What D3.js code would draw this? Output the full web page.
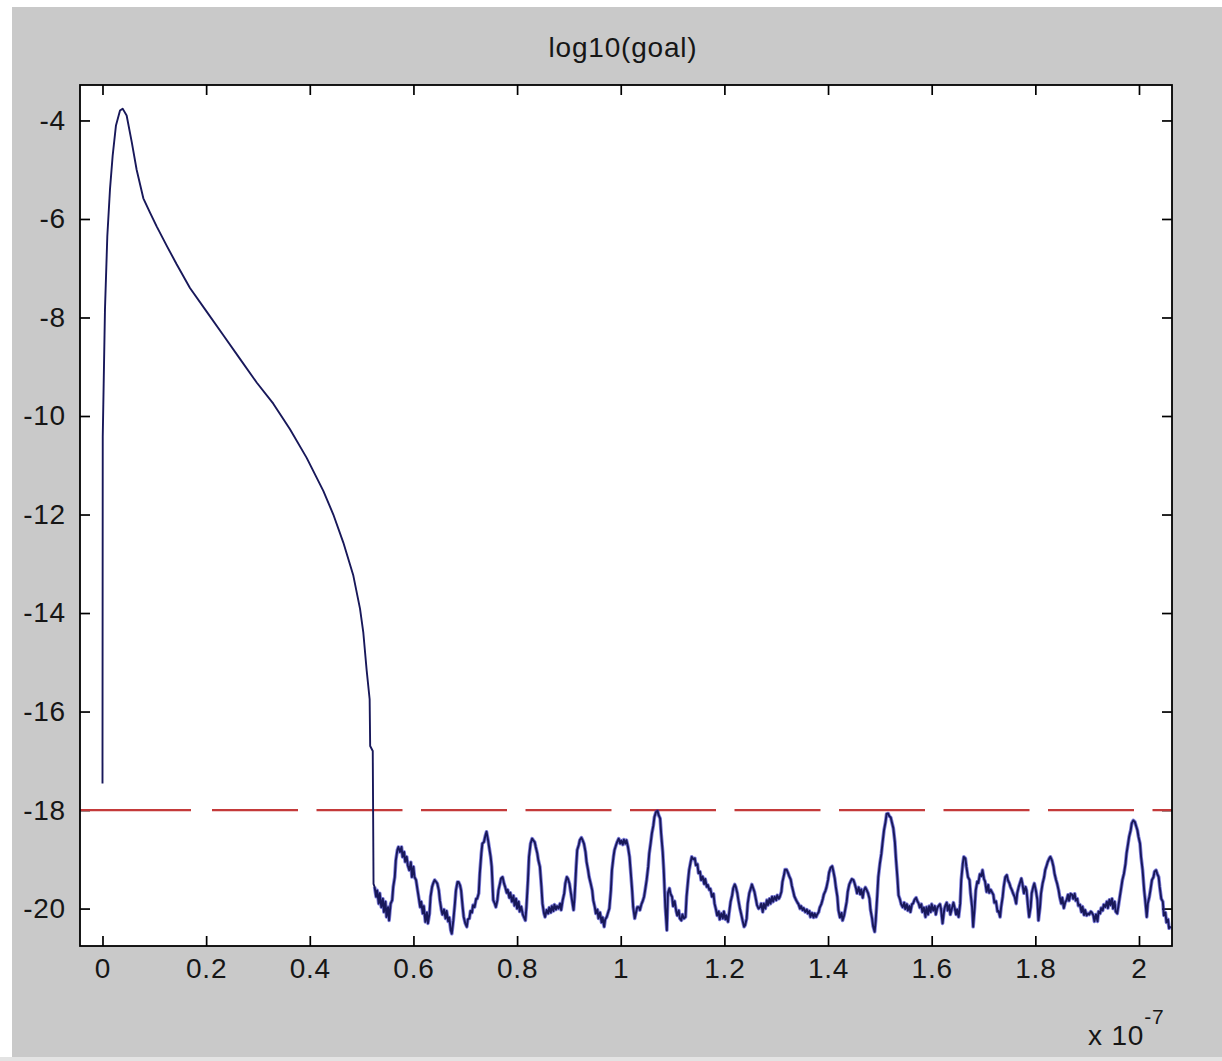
<!DOCTYPE html>
<html>
<head>
<meta charset="utf-8">
<script src="https://cdn.jsdelivr.net/npm/d3@7"></script>
<style>
  html, body { margin: 0; padding: 0; background: #ffffff; }
  svg { display: block; font-family: "Liberation Sans", Arial, Helvetica, sans-serif; }
</style>
</head>
<body>
<svg id="fig" width="1222" height="1061"></svg>
<script>
// ---- log10 of the goal function versus time (time in units of 1e-7 s) ----

// Initial pulse: sharp rise, peak, slow decay, then the collapse to the floor
const pulseTime = [0, 0.0005, 0.0048, 0.0093, 0.0145, 0.0196, 0.026, 0.0338, 0.0389, 0.0466,
  0.0563, 0.0659, 0.0788, 0.0917, 0.1045, 0.1238, 0.1431, 0.1688, 0.201, 0.2332,
  0.2653, 0.2975, 0.3296, 0.3618, 0.394, 0.4261, 0.4454, 0.4647, 0.484, 0.4969,
  0.5033, 0.5097, 0.5155, 0.5165, 0.5215, 0.523];
const pulseGoal = [-17.46, -10.42, -7.83, -6.35, -5.39, -4.72, -4.1, -3.8, -3.76, -3.9,
  -4.43, -5.0, -5.58, -5.87, -6.15, -6.54, -6.92, -7.4, -7.88, -8.36,
  -8.84, -9.32, -9.75, -10.27, -10.85, -11.52, -12.0, -12.57, -13.24, -13.91,
  -14.4, -15.16, -15.75, -16.7, -16.8, -19.5];

// Noise floor, first stretch (0.52 .. 0.88)
const floorTimeA = [
  0.525,0.528,0.530,0.533,0.535,0.538,0.541,0.543,0.546,0.548,
  0.551,0.553,0.556,0.559,0.561,0.564,0.566,0.569,0.571,0.574,
  0.577,0.579,0.582,0.584,0.587,0.589,0.592,0.595,0.597,0.600,
  0.602,0.605,0.608,0.610,0.613,0.615,0.618,0.620,0.623,0.626,
  0.628,0.631,0.633,0.636,0.638,0.641,0.644,0.646,0.649,0.651,
  0.654,0.656,0.659,0.662,0.664,0.667,0.669,0.672,0.674,0.677,
  0.680,0.682,0.685,0.687,0.690,0.692,0.695,0.697,0.700,0.703,
  0.705,0.708,0.710,0.713,0.715,0.718,0.721,0.723,0.726,0.728,
  0.731,0.733,0.736,0.739,0.741,0.744,0.746,0.749,0.751,0.754,
  0.757,0.759,0.762,0.764,0.767,0.769,0.772,0.775,0.777,0.780,
  0.782,0.785,0.787,0.790,0.793,0.795,0.798,0.800,0.803,0.805,
  0.808,0.811,0.813,0.816,0.818,0.821,0.823,0.826,0.829,0.831,
  0.834,0.836,0.839,0.841,0.844,0.847,0.849,0.852,0.854,0.857,
  0.860,0.862,0.865,0.867,0.870,0.872,0.875,0.877,0.880];
const floorGoalA = [
  -19.56,-19.76,-19.63,-19.90,-19.69,-19.97,-19.80,-20.07,-19.86,-20.17,
  -19.97,-20.24,-19.90,-19.83,-19.56,-19.36,-19.02,-18.81,-18.75,-18.85,
  -18.75,-18.95,-18.85,-19.05,-18.95,-19.12,-19.22,-19.06,-19.36,-19.15,
  -19.36,-19.42,-19.63,-19.76,-19.97,-19.86,-20.10,-19.95,-20.27,-20.08,
  -20.30,-20.10,-19.76,-19.56,-19.49,-19.42,-19.46,-19.49,-19.63,-19.83,
  -20.03,-20.12,-20.02,-20.20,-20.05,-20.26,-20.18,-20.44,-20.51,-20.24,
  -19.90,-19.63,-19.46,-19.46,-19.53,-19.63,-19.97,-20.17,-20.30,-20.37,
  -20.22,-20.20,-20.05,-20.08,-19.93,-19.97,-19.80,-19.80,-19.69,-19.29,
  -18.88,-18.68,-18.65,-18.51,-18.44,-18.61,-18.75,-18.95,-19.15,-19.83,
  -19.90,-19.97,-19.83,-19.63,-19.49,-19.39,-19.36,-19.50,-19.56,-19.68,
  -19.62,-19.78,-19.68,-19.86,-19.74,-19.94,-19.80,-20.00,-19.86,-20.06,
  -19.96,-20.12,-20.17,-20.24,-19.97,-19.42,-18.95,-18.68,-18.58,-18.61,
  -18.65,-18.75,-18.88,-19.02,-19.15,-19.56,-19.90,-20.10,-20.17,-20.03,
  -20.10,-19.98,-20.08,-19.95,-20.05,-19.92,-20.02,-19.95,-20.00];

// Noise floor, second stretch (0.88 .. 1.27)
const floorTimeB = [
  0.883,0.885,0.888,0.891,0.893,0.896,0.898,0.901,0.903,0.906,
  0.909,0.911,0.914,0.916,0.919,0.921,0.924,0.926,0.929,0.932,
  0.934,0.937,0.939,0.942,0.945,0.947,0.950,0.952,0.955,0.957,
  0.960,0.963,0.965,0.968,0.970,0.973,0.975,0.978,0.981,0.983,
  0.986,0.988,0.991,0.993,0.996,0.999,1.001,1.004,1.006,1.009,
  1.011,1.014,1.017,1.019,1.022,1.024,1.027,1.029,1.032,1.035,
  1.037,1.040,1.042,1.045,1.047,1.050,1.053,1.055,1.058,1.060,
  1.063,1.065,1.068,1.071,1.073,1.076,1.078,1.081,1.083,1.086,
  1.089,1.091,1.094,1.096,1.099,1.101,1.104,1.107,1.109,1.112,
  1.114,1.117,1.119,1.122,1.125,1.127,1.130,1.132,1.135,1.137,
  1.140,1.143,1.145,1.148,1.150,1.153,1.155,1.158,1.161,1.163,
  1.166,1.168,1.171,1.173,1.176,1.179,1.181,1.184,1.186,1.189,
  1.191,1.194,1.197,1.199,1.202,1.204,1.207,1.209,1.212,1.215,
  1.217,1.220,1.222,1.225,1.227,1.230,1.233,1.235,1.238,1.240,
  1.243,1.245,1.248,1.251,1.253,1.256,1.258,1.261,1.263,1.266];
const floorGoalB = [
  -19.90,-20.03,-19.83,-19.69,-19.49,-19.36,-19.39,-19.49,-19.63,-19.83,
  -20.03,-19.76,-19.15,-18.81,-18.71,-18.61,-18.56,-18.60,-18.68,-18.85,
  -19.05,-19.22,-19.36,-19.49,-19.63,-19.83,-19.97,-20.10,-20.02,-20.20,
  -20.08,-20.28,-20.18,-20.37,-20.22,-20.17,-20.10,-20.00,-19.63,-19.22,
  -18.95,-18.81,-18.71,-18.65,-18.58,-18.68,-18.62,-18.70,-18.60,-18.68,
  -18.61,-18.75,-18.95,-19.22,-19.63,-19.97,-20.20,-20.10,-19.97,-19.97,
  -20.03,-19.91,-19.86,-19.76,-19.63,-19.42,-19.15,-18.88,-18.65,-18.48,
  -18.31,-18.14,-18.04,-18.02,-18.10,-18.17,-18.48,-18.85,-19.22,-19.97,
  -20.44,-19.69,-19.59,-19.70,-19.76,-19.95,-19.85,-20.05,-20.14,-20.04,
  -20.20,-20.24,-20.12,-20.20,-20.17,-19.76,-19.42,-19.22,-19.05,-18.95,
  -19.00,-18.98,-19.12,-19.10,-19.28,-19.25,-19.42,-19.35,-19.50,-19.40,
  -19.56,-19.52,-19.62,-19.60,-19.76,-19.70,-19.90,-20.03,-20.14,-20.06,
  -20.22,-20.10,-20.20,-20.06,-20.22,-20.14,-20.27,-20.10,-19.86,-19.73,
  -19.59,-19.51,-19.56,-19.69,-19.83,-20.00,-20.14,-20.24,-20.37,-20.34,
  -20.20,-19.90,-19.69,-19.59,-19.51,-19.60,-19.66,-19.82,-19.93,-20.00];

// Noise floor, third stretch (1.27 .. 1.65)
const floorTimeC = [
  1.269,1.271,1.274,1.276,1.279,1.282,1.284,1.287,1.289,1.292,
  1.294,1.297,1.300,1.302,1.305,1.307,1.310,1.312,1.315,1.317,
  1.320,1.323,1.325,1.328,1.330,1.333,1.335,1.338,1.341,1.343,
  1.346,1.348,1.351,1.353,1.356,1.359,1.361,1.364,1.366,1.369,
  1.372,1.374,1.377,1.379,1.382,1.384,1.387,1.390,1.392,1.395,
  1.397,1.400,1.402,1.405,1.408,1.410,1.413,1.415,1.418,1.420,
  1.423,1.426,1.428,1.431,1.433,1.436,1.438,1.441,1.444,1.446,
  1.449,1.451,1.454,1.456,1.459,1.462,1.464,1.467,1.469,1.472,
  1.474,1.477,1.480,1.482,1.485,1.487,1.490,1.492,1.495,1.497,
  1.500,1.503,1.505,1.508,1.511,1.513,1.516,1.518,1.521,1.523,
  1.526,1.529,1.531,1.534,1.536,1.539,1.541,1.544,1.547,1.549,
  1.552,1.554,1.557,1.559,1.562,1.564,1.567,1.570,1.572,1.575,
  1.577,1.580,1.582,1.585,1.588,1.590,1.593,1.595,1.598,1.600,
  1.603,1.606,1.608,1.611,1.613,1.616,1.618,1.621,1.624,1.626,
  1.629,1.631,1.634,1.636,1.639,1.642,1.644,1.647,1.649,1.652];
const floorGoalC = [
  -19.97,-19.90,-20.07,-19.90,-20.00,-19.83,-19.93,-19.80,-19.90,-19.76,
  -19.86,-19.76,-19.83,-19.73,-19.80,-19.76,-19.66,-19.46,-19.32,-19.21,
  -19.21,-19.28,-19.34,-19.41,-19.53,-19.66,-19.75,-19.82,-19.88,-19.91,
  -20.00,-19.95,-20.03,-19.99,-20.07,-20.02,-20.10,-20.05,-20.17,-20.09,
  -20.18,-20.10,-20.17,-20.12,-20.07,-19.98,-19.91,-19.80,-19.71,-19.64,
  -19.57,-19.42,-19.27,-19.17,-19.14,-19.23,-19.39,-19.56,-19.76,-20.03,
  -20.18,-20.09,-20.24,-20.14,-20.03,-19.86,-19.66,-19.51,-19.44,-19.40,
  -19.42,-19.48,-19.59,-19.69,-19.57,-19.71,-19.61,-19.78,-19.64,-19.57,
  -19.61,-19.68,-19.80,-20.03,-20.20,-20.36,-20.47,-20.24,-19.73,-19.36,
  -19.09,-18.88,-18.68,-18.41,-18.24,-18.08,-18.07,-18.12,-18.15,-18.24,
  -18.37,-18.65,-18.98,-19.39,-19.73,-19.82,-19.91,-19.97,-19.88,-20.01,
  -19.91,-20.04,-19.95,-20.07,-19.91,-19.90,-19.82,-19.78,-19.84,-19.90,
  -19.98,-19.91,-20.07,-19.98,-20.17,-19.97,-20.12,-19.95,-20.07,-19.91,
  -20.04,-19.95,-20.12,-19.98,-19.95,-19.91,-20.01,-20.30,-20.04,-19.95,
  -19.88,-20.04,-19.93,-20.12,-20.00,-19.88,-19.97,-20.12,-20.02,-20.17];

// Noise floor, last stretch (1.65 .. 2.06)
const floorTimeD = [
  1.655,1.657,1.660,1.662,1.665,1.667,1.670,1.673,1.675,1.678,
  1.680,1.683,1.685,1.688,1.690,1.693,1.696,1.698,1.701,1.703,
  1.706,1.709,1.711,1.714,1.716,1.719,1.721,1.724,1.727,1.729,
  1.732,1.734,1.737,1.739,1.742,1.745,1.747,1.750,1.752,1.755,
  1.757,1.760,1.763,1.765,1.768,1.770,1.773,1.775,1.778,1.781,
  1.783,1.786,1.788,1.791,1.793,1.796,1.798,1.801,1.804,1.806,
  1.809,1.811,1.814,1.817,1.819,1.822,1.824,1.827,1.829,1.832,
  1.835,1.837,1.840,1.842,1.845,1.847,1.850,1.852,1.855,1.858,
  1.860,1.863,1.865,1.868,1.871,1.873,1.876,1.878,1.881,1.883,
  1.886,1.889,1.891,1.894,1.896,1.899,1.902,1.904,1.907,1.909,
  1.912,1.914,1.917,1.920,1.922,1.925,1.927,1.930,1.932,1.935,
  1.938,1.940,1.943,1.945,1.948,1.950,1.953,1.955,1.958,1.961,
  1.963,1.966,1.968,1.971,1.974,1.976,1.979,1.981,1.984,1.986,
  1.989,1.992,1.994,1.997,1.999,2.002,2.004,2.007,2.010,2.012,
  2.015,2.017,2.020,2.022,2.025,2.028,2.030,2.033,2.035,2.038,
  2.040,2.043,2.046,2.048,2.051,2.053,2.056,2.058,2.061];
const floorGoalD = [
  -19.90,-19.42,-19.09,-18.95,-18.98,-19.15,-19.36,-19.42,-19.69,-19.97,
  -20.37,-19.97,-19.63,-19.45,-19.48,-19.30,-19.34,-19.22,-19.40,-19.45,
  -19.66,-19.52,-19.68,-19.62,-19.66,-19.72,-19.88,-19.85,-20.06,-20.05,
  -20.17,-19.97,-19.76,-19.56,-19.36,-19.32,-19.42,-19.49,-19.56,-19.63,
  -19.69,-19.76,-19.90,-19.69,-19.56,-19.49,-19.39,-19.49,-19.69,-19.56,
  -19.63,-19.97,-20.17,-19.97,-19.69,-19.56,-19.49,-19.63,-19.83,-20.24,
  -19.97,-19.69,-19.49,-19.36,-19.22,-19.12,-19.05,-18.98,-18.95,-19.02,
  -19.15,-19.29,-19.42,-19.49,-19.63,-19.76,-19.90,-19.78,-19.99,-19.86,
  -19.84,-19.72,-19.84,-19.70,-19.72,-19.80,-19.70,-19.84,-19.80,-19.94,
  -19.92,-20.07,-19.96,-20.13,-20.03,-20.14,-20.10,-20.12,-20.06,-20.08,
  -20.14,-20.26,-20.12,-20.26,-20.06,-20.10,-19.99,-20.04,-19.92,-19.97,
  -19.86,-19.99,-19.82,-19.93,-19.80,-20.00,-19.86,-20.06,-20.10,-19.90,
  -19.76,-19.56,-19.42,-19.29,-19.09,-18.88,-18.68,-18.54,-18.41,-18.27,
  -18.21,-18.24,-18.31,-18.41,-18.54,-18.68,-18.95,-19.22,-19.63,-19.83,
  -20.17,-19.90,-19.76,-19.63,-19.42,-19.36,-19.25,-19.22,-19.29,-19.36,
  -19.56,-19.80,-19.86,-20.14,-20.08,-20.28,-20.22,-20.40,-20.36];

// Target level drawn as a dashed reference line
const goalLevel = -18;

// Axis limits and ticks
const xLimits = [-0.0434, 2.0637];
const yLimits = [-20.76, -3.28];
const xTicks = [0, 0.2, 0.4, 0.6, 0.8, 1, 1.2, 1.4, 1.6, 1.8, 2];
const yTicks = [-20, -18, -16, -14, -12, -10, -8, -6, -4];
const titleText = "log10(goal)";
const xExponent = "-7";

// ---- drawing ----
const W = 1222, H = 1061;
const svg = d3.select("#fig");

// figure background
svg.append("rect").attr("x", 0).attr("y", 1057).attr("width", W).attr("height", H - 1057).attr("fill", "#e3e3e3");
svg.append("rect").attr("x", 12).attr("y", 7).attr("width", W - 12).attr("height", 1050).attr("fill", "#c9c9c9");

const plot = { left: 80, top: 85, right: 1172, bottom: 946 };
const x = d3.scaleLinear().domain(xLimits).range([plot.left, plot.right]);
const y = d3.scaleLinear().domain(yLimits).range([plot.bottom, plot.top]);

svg.append("rect")
  .attr("x", plot.left).attr("y", plot.top)
  .attr("width", plot.right - plot.left).attr("height", plot.bottom - plot.top)
  .attr("fill", "#ffffff");

svg.append("clipPath").attr("id", "plot-clip")
  .append("rect")
  .attr("x", plot.left).attr("y", plot.top)
  .attr("width", plot.right - plot.left).attr("height", plot.bottom - plot.top);

const fontSize = 28;
const labelFmt = d => String(+d.toFixed(1));

function styleAxis(g) {
  g.select(".domain").remove();
  g.selectAll(".tick line").attr("stroke", "#000").attr("stroke-width", 1.7);
  g.selectAll(".tick text")
    .attr("fill", "#161616")
    .style("font-size", fontSize + "px")
    .style("letter-spacing", "0.8px");
}

// bottom axis with labels
svg.append("g")
  .attr("transform", `translate(0,${plot.bottom})`)
  .call(d3.axisBottom(x).tickValues(xTicks).tickSize(-10).tickSizeOuter(0).tickPadding(12).tickFormat(labelFmt))
  .call(styleAxis);

// left axis with labels
svg.append("g")
  .attr("transform", `translate(${plot.left},0)`)
  .call(d3.axisLeft(y).tickValues(yTicks).tickSize(-10).tickSizeOuter(0).tickPadding(14).tickFormat(d => String(d)))
  .call(styleAxis);

// mirrored tick marks on top and right
svg.append("g")
  .attr("transform", `translate(0,${plot.top})`)
  .call(d3.axisTop(x).tickValues(xTicks).tickSize(-10).tickSizeOuter(0).tickFormat(""))
  .call(styleAxis);
svg.append("g")
  .attr("transform", `translate(${plot.right},0)`)
  .call(d3.axisRight(y).tickValues(yTicks).tickSize(-10).tickSizeOuter(0).tickFormat(""))
  .call(styleAxis);

// dashed goal level
const dashes = ["111", "21"].concat(d3.range(10).map(() => "86 18.5")).join(" ");
svg.append("line")
  .attr("clip-path", "url(#plot-clip)")
  .attr("x1", x(xLimits[0])).attr("x2", x(xLimits[1]))
  .attr("y1", y(goalLevel)).attr("y2", y(goalLevel))
  .attr("stroke", "#c43a3a").attr("stroke-width", 2.2)
  .attr("stroke-dasharray", dashes);

// the goal trace
const pulse = pulseTime.map((t, i) => [t, pulseGoal[i]]);
const floorTime = floorTimeA.concat(floorTimeB, floorTimeC, floorTimeD);
const floorGoal = floorGoalA.concat(floorGoalB, floorGoalC, floorGoalD);
const floor = floorTime.map((t, i) => [t, floorGoal[i]]).filter(p => p[1] !== undefined);
const full = pulse.concat(floor);

const line = d3.line().x(d => x(d[0])).y(d => y(d[1]));
const trace = svg.append("g").attr("clip-path", "url(#plot-clip)");
// the densely sampled floor shows up as a thicker blue band
trace.append("path").datum(floor)
  .attr("d", line).attr("fill", "none")
  .attr("stroke", "#2626c0").attr("stroke-opacity", 0.6)
  .attr("stroke-width", 3.6).attr("stroke-linejoin", "round");
trace.append("path").datum(full)
  .attr("d", line).attr("fill", "none")
  .attr("stroke", "#18185a").attr("stroke-width", 1.9).attr("stroke-linejoin", "round");

// axes box
svg.append("rect")
  .attr("x", plot.left).attr("y", plot.top)
  .attr("width", plot.right - plot.left).attr("height", plot.bottom - plot.top)
  .attr("fill", "none").attr("stroke", "#000").attr("stroke-width", 1.8);

// title
svg.append("text")
  .attr("x", 623).attr("y", 57)
  .attr("text-anchor", "middle")
  .attr("fill", "#161616")
  .style("font-size", fontSize + "px")
  .style("letter-spacing", "0.8px")
  .text(titleText);

// x-axis multiplier
const mult = svg.append("text")
  .attr("x", 1088).attr("y", 1045)
  .attr("fill", "#161616")
  .style("font-size", fontSize + "px")
  .style("letter-spacing", "0.8px");
mult.append("tspan").text("x 10");
mult.append("tspan").attr("dy", -21).style("font-size", "21px").text(xExponent);
</script>
</body>
</html>
